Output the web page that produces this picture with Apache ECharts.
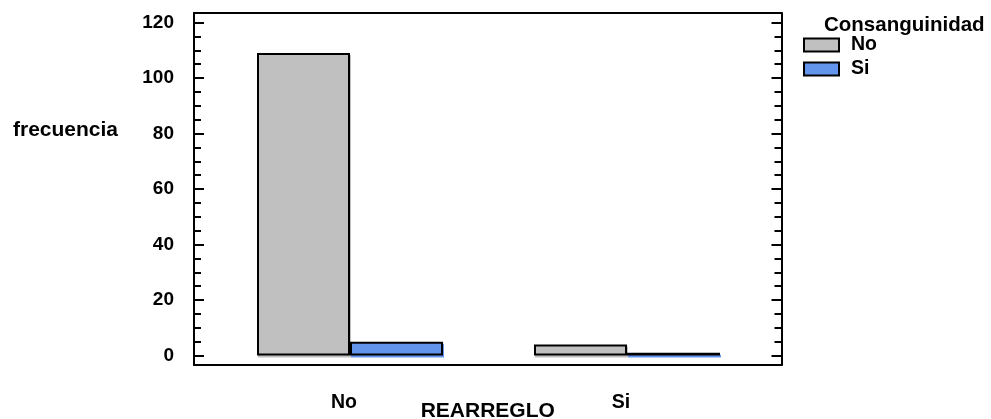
<!DOCTYPE html>
<html>
<head>
<meta charset="utf-8">
<style>
  html, body { margin: 0; padding: 0; background: #ffffff; }
  #chart { width: 991px; height: 419px; }
</style>
<script src="https://cdn.jsdelivr.net/npm/echarts@6/dist/echarts.min.js"></script>
</head>
<body>
<div id="chart"></div>
<script>
// ---- data ----
const categories = ['No', 'Si'];            // REARREGLO
const legendNames = ['No', 'Si'];           // Consanguinidad
const valuesConsNo = [109, 4];
const valuesConsSi = [5, 1];
const yMin = 0, yMax = 120, yInterval = 20;
const xAxisTitle = 'REARREGLO';
const yAxisTitle = 'frecuencia';
const legendTitle = 'Consanguinidad';

const FONT = "'Liberation Sans', Arial, sans-serif";
const colors = ['#c0c0c0', '#6495ed'];

const chart = echarts.init(document.getElementById('chart'), null, { renderer: 'canvas' });

const frameGrid = { left: 194, right: 209.5, top: 13, bottom: 54 };
const tickGrid = { left: 194, right: 209.5, top: 22.5, bottom: 63.5 };
const barGrid = { left: 211.5, right: 225.5, top: 22.5, bottom: 63.5 };

const blackLine = { show: true, onZero: false, lineStyle: { color: '#000', width: 2 } };

function barSeries(name, values, color) {
  return {
    name: name,
    type: 'bar',
    xAxisIndex: 2,
    yAxisIndex: 3,
    data: values,
    barWidth: 93,
    barGap: '0%',
    itemStyle: {
      color: color,
      borderColor: '#000',
      borderWidth: 2,
      shadowColor: color,
      shadowOffsetX: 1,
      shadowOffsetY: 2,
      shadowBlur: 0
    },
    emphasis: { disabled: true }
  };
}

const option = {
  backgroundColor: '#ffffff',
  animation: false,
  textStyle: { fontFamily: FONT },
  title: [
    { text: yAxisTitle, left: 8, top: 115,
      textStyle: { fontFamily: FONT, fontSize: 21, fontWeight: 'bold', color: '#000' } },
    { text: legendTitle, left: 819, top: 10,
      textStyle: { fontFamily: FONT, fontSize: 20.5, fontWeight: 'bold', color: '#000' } }
  ],
  legend: {
    data: legendNames,
    orient: 'vertical',
    left: 803,
    top: 35,
    padding: 0,
    itemWidth: 35,
    itemHeight: 13,
    itemGap: 4,
    icon: 'rect',
    selectedMode: false,
    textStyle: { fontFamily: FONT, fontSize: 19.5, fontWeight: 'bold', color: '#000', padding: [0, 0, 0, 7] }
  },
  grid: [
    Object.assign({}, frameGrid, { containLabel: false, outerBoundsMode: 'none' }),
    Object.assign({}, tickGrid, { containLabel: false, outerBoundsMode: 'none' }),
    Object.assign({}, barGrid, { containLabel: false, outerBoundsMode: 'none' })
  ],
  xAxis: [
    { // frame bottom
      gridIndex: 0, type: 'value', min: 0, max: 1, position: 'bottom',
      axisLine: blackLine, axisTick: { show: false }, axisLabel: { show: false }, splitLine: { show: false },
      name: xAxisTitle, nameLocation: 'middle', nameGap: 36,
      nameTextStyle: { fontFamily: FONT, fontSize: 21, fontWeight: 'bold', color: '#000' }
    },
    { // frame top
      gridIndex: 0, type: 'value', min: 0, max: 1, position: 'top',
      axisLine: blackLine, axisTick: { show: false }, axisLabel: { show: false }, splitLine: { show: false }
    },
    { // categories for bars
      gridIndex: 2, type: 'category', data: categories, position: 'bottom',
      axisLine: { show: false, onZero: false }, axisTick: { show: false }, splitLine: { show: false },
      axisLabel: { margin: 37, fontFamily: FONT, fontSize: 19.5, fontWeight: 'bold', color: '#000', padding: [0, 12, 0, 0] }
    },
    { // hidden x for tick grid
      gridIndex: 1, type: 'value', min: 0, max: 1, show: false
    }
  ],
  yAxis: [
    { // frame left
      gridIndex: 0, type: 'value', min: 0, max: 1, position: 'left',
      axisLine: blackLine, axisTick: { show: false }, axisLabel: { show: false }, splitLine: { show: false }
    },
    { // ticks left with labels
      gridIndex: 1, type: 'value', min: yMin, max: yMax, interval: yInterval, position: 'left',
      axisLine: { show: false, onZero: false },
      axisTick: { show: true, inside: true, length: 10, lineStyle: { color: '#000', width: 2 } },
      minorTick: { show: true, splitNumber: 4, length: 7, lineStyle: { color: '#000', width: 2 } },
      axisLabel: { margin: 20, fontFamily: FONT, fontSize: 19, fontWeight: 'bold', color: '#000' },
      splitLine: { show: false }
    },
    { // ticks right
      gridIndex: 1, type: 'value', min: yMin, max: yMax, interval: yInterval, position: 'right',
      axisLine: { show: false, onZero: false },
      axisTick: { show: true, inside: true, length: 10, lineStyle: { color: '#000', width: 2 } },
      minorTick: { show: true, splitNumber: 4, length: 7, lineStyle: { color: '#000', width: 2 } },
      axisLabel: { show: false },
      splitLine: { show: false }
    },
    { // hidden y for bars
      gridIndex: 2, type: 'value', min: yMin, max: yMax, show: false, splitLine: { show: false }
    },
    { // frame right
      gridIndex: 0, type: 'value', min: 0, max: 1, position: 'right',
      axisLine: blackLine, axisTick: { show: false }, axisLabel: { show: false }, splitLine: { show: false }
    }
  ],
  series: [
    barSeries(legendNames[0], valuesConsNo, colors[0]),
    barSeries(legendNames[1], valuesConsSi, colors[1])
  ]
};

chart.setOption(option);
</script>
</body>
</html>
